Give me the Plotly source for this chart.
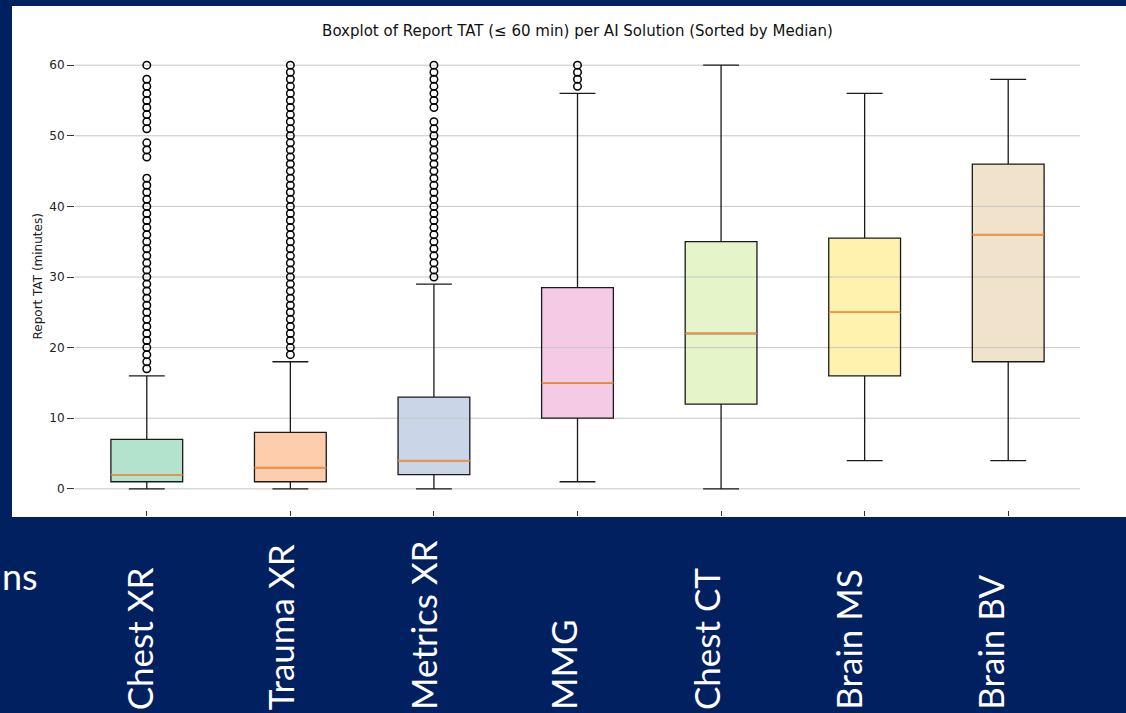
import plotly.graph_objects as go

# AI solutions, sorted by median report turnaround time
solutions = ["Chest XR", "Trauma XR", "Metrics XR", "MMG", "Chest CT", "Brain MS", "Brain BV"]

# Five-number summaries (minutes)
q1 = [1, 1, 2, 10, 12, 16, 18]
median = [2, 3, 4, 15, 22, 25, 36]
q3 = [7, 8, 13, 28.5, 35, 35.5, 46]
whisker_low = [0, 0, 0, 1, 0, 4, 4]
whisker_high = [16, 18, 29, 56, 60, 56, 58]

# Outliers beyond the upper whisker (minutes)
outliers_chest_xr = [60, 58, 57, 56, 55, 54, 53, 52, 51, 49, 48, 47,
                     44, 43, 42, 41, 40, 39, 38, 37, 36, 35, 34, 33, 32, 31, 30,
                     29, 28, 27, 26, 25, 24, 23, 22, 21, 20, 19, 18, 17]
outliers_trauma_xr = [60, 59, 58, 57, 56, 55, 54, 53, 52, 51, 50, 49, 48, 47, 46, 45,
                      44, 43, 42, 41, 40, 39, 38, 37, 36, 35, 34, 33, 32, 31, 30,
                      29, 28, 27, 26, 25, 24, 23, 22, 21, 20, 19]
outliers_metrics_xr = [60, 59, 58, 57, 56, 55, 54, 52, 51, 50, 49, 48, 47, 46, 45,
                       44, 43, 42, 41, 40, 39, 38, 37, 36, 35, 34, 33, 32, 31, 30]
outliers_mmg = [60, 59, 58, 57]
outliers = [outliers_chest_xr, outliers_trauma_xr, outliers_metrics_xr, outliers_mmg, [], [], []]

# Matplotlib Pastel2 fills
fills = ["#b3e2cd", "#fdcdac", "#cbd5e8", "#f4cae4", "#e6f5c9", "#fff2ae", "#f1e2cc"]

y_ticks = [0, 10, 20, 30, 40, 50, 60]

W, H = 1126, 713
NAVY = "#002060"
EDGE = "#1a1a1a"
GRID = "#c6c6c6"
BOX_W = 0.5

# pixel layout of the slide
plot_l, plot_r, plot_t, plot_b = 75, 1080, 44, 510
panel_l, panel_t, panel_b = 12, 6, 517

positions = list(range(1, len(solutions) + 1))
label_shift = [-8, -10, -11, -15, -15, -17, -19]

fig = go.Figure()

# box fills (beneath the grid, as in matplotlib's patch/grid ordering)
for i, name in enumerate(solutions):
    fig.add_trace(go.Box(
        x=[positions[i]], q1=[q1[i]], median=[median[i]], q3=[q3[i]],
        lowerfence=[whisker_low[i]], upperfence=[whisker_high[i]],
        width=BOX_W, whiskerwidth=0.5, boxpoints=False,
        fillcolor=fills[i], line=dict(color=fills[i], width=0),
        hoverinfo="skip", showlegend=False, zorder=0,
    ))

# horizontal grid lines
for v in y_ticks:
    fig.add_trace(go.Scatter(
        x=[0.5, 7.5], y=[v, v], mode="lines",
        line=dict(color=GRID, width=1), hoverinfo="skip",
        showlegend=False, zorder=1,
    ))

# box outlines, whiskers and caps
for i, name in enumerate(solutions):
    fig.add_trace(go.Box(
        x=[positions[i]], q1=[q1[i]], median=[median[i]], q3=[q3[i]],
        lowerfence=[whisker_low[i]], upperfence=[whisker_high[i]],
        width=BOX_W, whiskerwidth=0.5, boxpoints=False,
        fillcolor="rgba(0,0,0,0)", line=dict(color=EDGE, width=1.3),
        name=name, showlegend=False, zorder=2,
    ))

# medians
for i, name in enumerate(solutions):
    fig.add_trace(go.Scatter(
        x=[positions[i] - BOX_W / 2, positions[i] + BOX_W / 2],
        y=[median[i], median[i]], mode="lines",
        line=dict(color="#f7913f", width=1.6),
        hoverinfo="skip", showlegend=False, zorder=3,
    ))

# fliers
for i, name in enumerate(solutions):
    if outliers[i]:
        fig.add_trace(go.Scatter(
            x=[positions[i]] * len(outliers[i]), y=outliers[i], mode="markers",
            marker=dict(symbol="circle-open", size=7.5, color="black",
                        line=dict(width=1.5, color="black")),
            showlegend=False, zorder=3,
        ))

# rotated slide labels for each solution
for i, name in enumerate(solutions):
    fig.add_annotation(
        text=name, x=positions[i], xref="x", xshift=label_shift[i],
        y=(H - 712) / H, yref="paper", yanchor="bottom", xanchor="center",
        textangle=-90, showarrow=False,
        font=dict(family="Lato", size=35, color="white"),
    )

# slide text at the left edge
fig.add_annotation(
    text="ns", x=0, xref="paper", xanchor="left",
    y=1 - 576 / H, yref="paper", yanchor="middle", showarrow=False,
    font=dict(family="Lato", size=36, color="white"),
)

# y-axis title
fig.add_annotation(
    text="Report TAT (minutes)", x=37.5 / W, xref="paper", xanchor="center",
    y=1 - 277 / H, yref="paper", yanchor="middle", textangle=-90, showarrow=False,
    font=dict(family="DejaVu Sans", size=12, color="#222"),
)

# white chart panel on the navy slide
fig.add_shape(
    type="rect", xref="paper", yref="paper",
    x0=panel_l / W, x1=1, y0=1 - panel_b / H, y1=1 - panel_t / H,
    fillcolor="white", line=dict(width=0), layer="below",
)

fig.update_layout(
    width=W, height=H,
    margin=dict(l=0, r=0, t=0, b=0),
    paper_bgcolor=NAVY, plot_bgcolor="white",
    title=dict(
        text="Boxplot of Report TAT (≤ 60 min) per AI Solution (Sorted by Median)",
        x=577.5 / W, xanchor="center", y=1 - 31 / H, yanchor="middle",
        font=dict(family="DejaVu Sans", size=15, color="#111"),
    ),
    xaxis=dict(
        domain=[plot_l / W, plot_r / W], range=[0.5, 7.5],
        tickvals=positions, showticklabels=False, ticks="outside", ticklen=5,
        tickcolor="#333", showline=True, mirror=True, linecolor="#333", linewidth=1,
        showgrid=False, zeroline=False, automargin=False,
    ),
    yaxis=dict(
        domain=[1 - plot_b / H, 1 - plot_t / H], range=[-3, 63],
        tickvals=y_ticks, ticks="outside", ticklen=7, tickcolor="#333",
        tickfont=dict(family="DejaVu Sans", size=12, color="#222"),
        showline=True, mirror=True, linecolor="#333", linewidth=1,
        showgrid=False, zeroline=False, automargin=False,
    ),
)

fig.write_html("out.html")
